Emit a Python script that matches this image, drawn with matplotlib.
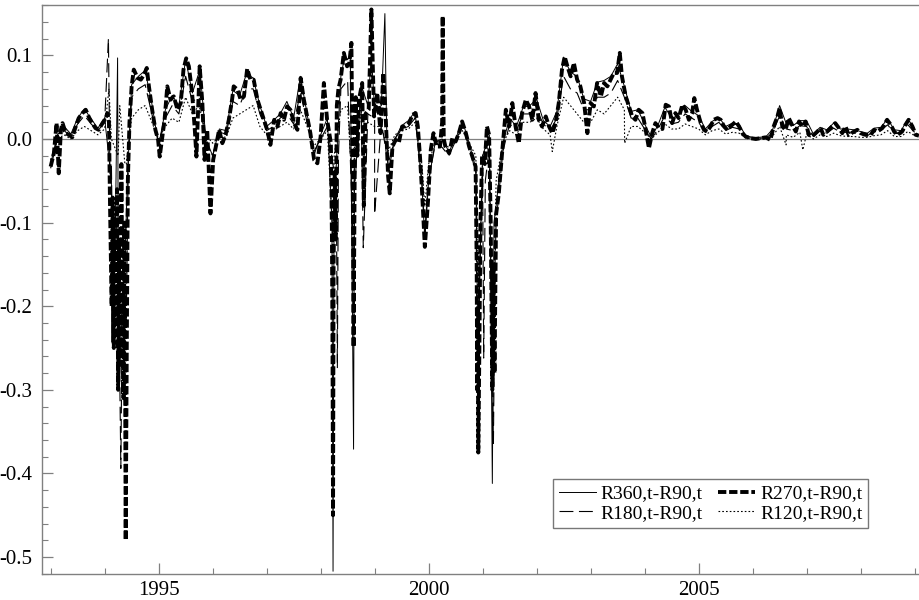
import numpy as np
import matplotlib
matplotlib.use('Agg')
import matplotlib.pyplot as plt
from matplotlib.ticker import MultipleLocator, FormatStrFormatter

plt.rcParams['font.family'] = ['Liberation Serif', 'DejaVu Serif']
plt.rcParams['axes.unicode_minus'] = False
plt.rcParams['lines.scale_dashes'] = False

# ── Data (decimal years, spread values) ──────────────────────────────────────

# R270,t-R90,t : the heavy dashed series, traced point by point
r270_t = [
    1993.00, 1993.06, 1993.11, 1993.15, 1993.19, 1993.22, 1993.28, 1993.34, 1993.40,
    1993.46, 1993.52, 1993.59, 1993.65, 1993.71, 1993.77, 1993.83, 1993.89, 1993.96,
    1994.02, 1994.05, 1994.08, 1994.10, 1994.13, 1994.15, 1994.17, 1994.19, 1994.21,
    1994.23, 1994.25, 1994.27, 1994.29, 1994.31, 1994.33, 1994.35, 1994.37, 1994.39,
    1994.41, 1994.43, 1994.46, 1994.50, 1994.54, 1994.61, 1994.67, 1994.73, 1994.78,
    1994.82, 1994.88, 1994.94, 1994.99,
    1995.02, 1995.07, 1995.11, 1995.16, 1995.22, 1995.28, 1995.35, 1995.41, 1995.46,
    1995.51, 1995.56, 1995.62, 1995.67, 1995.70, 1995.76, 1995.81, 1995.85, 1995.90, 1995.96,
    1996.01, 1996.06, 1996.12, 1996.18, 1996.24, 1996.30, 1996.36, 1996.39, 1996.46,
    1996.52, 1996.58, 1996.64, 1996.70, 1996.76, 1996.83, 1996.89, 1996.95,
    1997.01, 1997.07, 1997.14, 1997.20, 1997.26, 1997.32, 1997.38, 1997.44, 1997.51,
    1997.57, 1997.63, 1997.69, 1997.75, 1997.81, 1997.88, 1997.94,
    1998.00, 1998.06, 1998.12, 1998.19, 1998.21, 1998.22, 1998.23, 1998.24, 1998.26,
    1998.28, 1998.30, 1998.33, 1998.37, 1998.43, 1998.49, 1998.53, 1998.57, 1998.60,
    1998.61, 1998.63, 1998.65, 1998.68, 1998.71, 1998.77, 1998.80, 1998.83, 1998.89,
    1998.94, 1998.99,
    1999.05, 1999.11, 1999.16, 1999.20, 1999.25, 1999.28, 1999.33, 1999.39, 1999.45,
    1999.51, 1999.57, 1999.64, 1999.70, 1999.76, 1999.80, 1999.84, 1999.88, 1999.93, 1999.99,
    2000.04, 2000.09, 2000.15, 2000.21, 2000.25, 2000.26, 2000.28, 2000.31, 2000.38,
    2000.44, 2000.50, 2000.56, 2000.62, 2000.69, 2000.75, 2000.81, 2000.87, 2000.89,
    2000.90, 2000.91, 2000.92, 2000.94, 2000.96, 2000.99,
    2001.04, 2001.08, 2001.12, 2001.15, 2001.18, 2001.20, 2001.22, 2001.25, 2001.30,
    2001.36, 2001.43, 2001.49, 2001.55, 2001.61, 2001.67, 2001.73, 2001.80, 2001.86,
    2001.92, 2001.98,
    2002.04, 2002.10, 2002.17, 2002.23, 2002.29, 2002.35, 2002.41, 2002.47, 2002.52,
    2002.57, 2002.63, 2002.69, 2002.75, 2002.81, 2002.88, 2002.94,
    2003.00, 2003.06, 2003.12, 2003.19, 2003.25, 2003.31, 2003.37, 2003.43, 2003.49,
    2003.54, 2003.58, 2003.65, 2003.71, 2003.77, 2003.83, 2003.89, 2003.96,
    2004.02, 2004.08, 2004.14, 2004.20, 2004.27, 2004.33, 2004.39, 2004.45, 2004.51,
    2004.57, 2004.63, 2004.70, 2004.76, 2004.82, 2004.88, 2004.92, 2004.97,
    2005.04, 2005.10, 2005.16, 2005.22, 2005.28, 2005.35, 2005.41, 2005.47, 2005.53,
    2005.59, 2005.69, 2005.75, 2005.81, 2005.87, 2005.96,
    2006.06, 2006.15, 2006.24, 2006.33, 2006.39, 2006.46, 2006.50, 2006.55, 2006.61,
    2006.67, 2006.73, 2006.80, 2006.86, 2006.92, 2006.98,
    2007.04, 2007.10, 2007.20, 2007.26, 2007.31, 2007.38, 2007.44, 2007.53, 2007.60,
    2007.66, 2007.72, 2007.78, 2007.88, 2007.94,
    2008.00, 2008.09, 2008.19, 2008.25, 2008.31, 2008.40, 2008.49, 2008.56, 2008.62,
    2008.68, 2008.77, 2008.83, 2008.89, 2008.96, 2009.02, 2009.08,
]
r270_v = [
    -0.033, -0.017, 0.019, -0.041, 0.011, 0.019, 0.007, 0.005, 0.002,
    0.014, 0.025, 0.031, 0.035, 0.026, 0.019, 0.013, 0.011, 0.019,
    0.025, 0.031, 0.02, -0.08, -0.20, -0.07, -0.25, -0.10, -0.22,
    -0.06, -0.30, -0.12, -0.27, -0.03, -0.20, -0.31, -0.10, -0.48,
    -0.25, -0.05, 0.02, 0.063, 0.083, 0.073, 0.071, 0.077, 0.085,
    0.063, 0.035, 0.011, -0.001,
    -0.021, 0.003, 0.023, 0.063, 0.047, 0.051, 0.035, 0.043, 0.083,
    0.0965, 0.087, 0.055, 0.011, -0.021, 0.087, 0.043, -0.025, 0.011, -0.089,
    -0.025, -0.009, 0.011, -0.005, 0.005, 0.023, 0.047, 0.063, 0.059,
    0.047, 0.051, 0.084, 0.071, 0.071, 0.047, 0.035, 0.023,
    0.011, -0.007, 0.023, 0.015, 0.031, 0.023, 0.039, 0.035, 0.019,
    0.011, 0.073, 0.047, 0.027, 0.007, -0.025, -0.029,
    0.003, 0.067, 0.023, -0.005, -0.12, -0.25, -0.45, -0.15, -0.04,
    -0.12, 0.04, 0.06, 0.071, 0.103, 0.087, 0.09, 0.115, -0.10,
    -0.249, -0.05, 0.05, -0.02, 0.047, 0.067, -0.08, 0.03, 0.035,
    0.155, 0.027,
    0.055, 0.007, 0.079, 0.035, -0.045, -0.065, -0.009, -0.001, -0.004,
    0.015, 0.015, 0.019, 0.029, 0.031, 0.015, -0.021, -0.065, -0.129, -0.073,
    -0.013, 0.007, -0.009, -0.009, 0.02, 0.147, 0.0, -0.009, -0.017,
    0.001, -0.003, 0.007, 0.021, 0.007, -0.009, -0.021, -0.033, -0.15,
    -0.30, -0.20, -0.375, -0.25, -0.10, -0.02,
    -0.03, 0.015, 0.005, -0.10, -0.30, -0.15, -0.28, -0.09, -0.065,
    -0.017, 0.035, 0.015, 0.043, 0.015, -0.005, 0.031, 0.047, 0.039,
    0.023, 0.055,
    0.023, 0.015, 0.027, 0.015, 0.007, 0.019, 0.043, 0.083, 0.0985,
    0.087, 0.075, 0.091, 0.071, 0.063, 0.043, 0.007,
    0.043, 0.039, 0.067, 0.051, 0.067, 0.063, 0.071, 0.079, 0.079,
    0.103, 0.075, 0.051, 0.039, 0.027, 0.023, 0.035, 0.031,
    0.011, -0.011, 0.007, 0.019, 0.013, 0.012, 0.041, 0.039, 0.019,
    0.031, 0.025, 0.041, 0.035, 0.023, 0.031, 0.049, 0.035,
    0.019, 0.011, 0.009, 0.015, 0.023, 0.025, 0.023, 0.015, 0.011,
    0.015, 0.021, 0.015, 0.007, 0.003, 0.001,
    0.000, 0.001, 0.002, -0.001, 0.015, 0.027, 0.037, 0.015, 0.011,
    0.025, 0.017, 0.009, 0.021, 0.015, 0.021,
    0.005, 0.003, 0.009, 0.013, 0.005, 0.009, 0.013, 0.019, 0.013,
    0.007, 0.015, 0.005, 0.009, 0.011,
    0.007, 0.005, 0.005, 0.011, 0.009, 0.013, 0.023, 0.017, 0.009,
    0.005, 0.009, 0.017, 0.023, 0.015, 0.005, 0.004,
]

# the thin series: one reading every 1/8 year, plus their own sharp spikes
grid_t = np.arange(1993.0, 2009.001, 0.125)

r360_grid = [
    -0.030, 0.005, 0.015, 0.006, 0.025, 0.036, 0.024, 0.013,
    0.025, -0.050, -0.100, -0.150, 0.065, 0.075, 0.082, 0.042,
    -0.008, 0.035, 0.052, 0.040, 0.095, 0.055, 0.080, 0.000,
    -0.020, 0.012, 0.010, 0.058, 0.052, 0.078, 0.073, 0.040,
    0.015, 0.022, 0.030, 0.045, 0.025, 0.075, 0.030, -0.020,
    0.005, 0.025, -0.050, 0.075, 0.095, -0.050, 0.065, 0.040,
    0.035, 0.040, -0.040, 0.000, 0.016, 0.022, 0.033, -0.055,
    -0.050, -0.003, 0.000, -0.015, 0.000, 0.022, -0.005, -0.035,
    -0.020, 0.005, -0.080, -0.005, 0.025, 0.015, 0.038, 0.040,
    0.048, 0.022, 0.015, 0.033, 0.098, 0.080, 0.075, 0.048,
    0.045, 0.068, 0.070, 0.075, 0.090, 0.063, 0.033, 0.035,
    0.018, 0.002, 0.017, 0.038, 0.025, 0.028, 0.040, 0.033,
    0.028, 0.012, 0.021, 0.026, 0.015, 0.019, 0.017, 0.004,
    0.002, 0.002, 0.003, 0.012, 0.040, 0.018, 0.016, 0.022,
    0.022, 0.006, 0.014, 0.011, 0.019, 0.012, 0.012, 0.011,
    0.009, 0.007, 0.013, 0.014, 0.024, 0.011, 0.010, 0.024,
    0.012,
]
r360_spike_t = [1994.13, 1994.20, 1994.24, 1994.27, 1994.32, 1994.42, 1995.76,
                1998.21, 1998.23, 1998.25, 1998.45, 1998.55, 1998.61, 1998.64,
                1998.94, 1999.19, 1999.22, 1999.93, 2000.92, 2000.95, 2001.18, 2001.21]
r360_spike_v = [-0.243, -0.10, 0.097, -0.298, -0.20, -0.05, 0.087,
                -0.10, -0.517, -0.08, 0.10, 0.10, -0.371, -0.05,
                0.10, 0.15, 0.02, -0.12, -0.30, -0.15, -0.412, -0.10]

r180_grid = [
    -0.035, 0.000, 0.010, 0.003, 0.018, 0.028, 0.018, 0.010,
    0.020, -0.030, -0.120, -0.200, 0.050, 0.060, 0.065, 0.030,
    -0.005, 0.025, 0.040, 0.030, 0.075, 0.045, 0.050, -0.005,
    -0.020, 0.008, 0.006, 0.045, 0.040, 0.060, 0.060, 0.030,
    0.010, 0.015, 0.025, 0.030, 0.018, 0.055, 0.020, -0.015,
    0.000, 0.015, -0.040, 0.060, 0.070, -0.030, 0.050, 0.030,
    0.025, 0.020, -0.030, 0.000, 0.012, 0.015, 0.025, -0.050,
    -0.050, -0.005, -0.010, -0.020, -0.002, 0.015, -0.010, -0.040,
    -0.040, -0.010, -0.100, -0.015, 0.018, 0.010, 0.030, 0.030,
    0.035, 0.018, 0.010, 0.025, 0.075, 0.060, 0.055, 0.035,
    0.035, 0.050, 0.050, 0.055, 0.070, 0.050, 0.025, 0.025,
    0.012, 0.000, 0.012, 0.028, 0.018, 0.020, 0.030, 0.025,
    0.020, 0.008, 0.015, 0.020, 0.010, 0.014, 0.012, 0.002,
    0.001, 0.001, 0.001, 0.008, 0.028, 0.012, 0.010, 0.016,
    0.015, 0.003, 0.010, 0.007, 0.013, 0.008, 0.008, 0.007,
    0.006, 0.004, 0.009, 0.010, 0.017, 0.007, 0.006, 0.017,
    0.008,
]
r180_spike_t = [1994.07, 1994.10, 1994.16, 1994.22, 1994.30, 1994.34, 1994.40, 1994.44,
                1998.29, 1998.31, 1998.33, 1998.59, 1998.62, 1998.79, 1999.00,
                1999.93, 2000.90, 2000.95, 2001.02, 2001.05, 2001.16, 2001.20, 2001.23]
r180_spike_v = [0.12, -0.05, -0.20, -0.10, -0.394, -0.10, -0.22, -0.02,
                -0.05, -0.274, -0.02, -0.10, -0.23, -0.13, -0.09,
                -0.11, -0.30, -0.15, -0.262, -0.05, -0.20, -0.364, -0.15]

r120_grid = [
    -0.025, 0.000, 0.005, 0.000, 0.010, 0.015, 0.010, 0.005,
    0.012, 0.000, -0.020, -0.030, 0.025, 0.035, 0.040, 0.020,
    0.000, 0.015, 0.025, 0.020, 0.050, 0.030, 0.040, 0.005,
    -0.005, 0.003, 0.002, 0.025, 0.030, 0.035, 0.040, 0.015,
    0.005, 0.010, 0.015, 0.020, 0.012, 0.035, 0.015, -0.008,
    0.000, 0.010, -0.020, 0.035, 0.040, -0.010, 0.030, 0.020,
    0.015, 0.015, -0.015, 0.005, 0.010, 0.012, 0.020, -0.030,
    -0.030, -0.002, -0.005, -0.010, 0.000, 0.010, -0.005, -0.020,
    -0.020, 0.000, -0.050, -0.005, 0.010, 0.005, 0.020, 0.020,
    0.025, 0.012, 0.005, 0.015, 0.050, 0.040, 0.030, 0.020,
    0.020, 0.035, 0.030, 0.040, 0.050, 0.035, 0.015, 0.015,
    0.008, 0.000, 0.008, 0.018, 0.012, 0.012, 0.018, 0.015,
    0.012, 0.005, 0.010, 0.012, 0.006, 0.008, 0.007, 0.001,
    0.000, 0.000, 0.000, 0.004, 0.015, 0.005, 0.002, 0.008,
    0.006, 0.000, 0.005, 0.003, 0.007, 0.004, 0.003, 0.003,
    0.002, 0.002, 0.004, 0.005, 0.010, 0.003, 0.003, 0.009,
    0.004,
]
r120_spike_t = [1994.08, 1994.28, 1994.40, 1998.23, 1998.62, 1999.93,
                2000.92, 2001.19, 2002.29, 2003.63, 2006.62, 2006.93]
r120_spike_v = [0.06, 0.04, -0.03, -0.12, -0.10, -0.08,
                -0.22, -0.25, -0.015, -0.005, -0.007, -0.013]


def merge(grid_vals, spike_t, spike_v):
    t = np.concatenate([grid_t, spike_t])
    v = np.concatenate([grid_vals, spike_v])
    order = np.argsort(t, kind='stable')
    return t[order], v[order]


# ── Plot ──────────────────────────────────────────────────────────────────────

fig = plt.figure(figsize=(9.2, 6.0), dpi=100)
ax = fig.add_axes([42 / 920, 26 / 600, 878 / 920, 569 / 600])

ax.axhline(0, color='#808080', lw=0.9, zorder=1)

t360, v360 = merge(r360_grid, r360_spike_t, r360_spike_v)
t180, v180 = merge(r180_grid, r180_spike_t, r180_spike_v)
t120, v120 = merge(r120_grid, r120_spike_t, r120_spike_v)

l120, = ax.plot(t120, v120, color='black', lw=0.8, ls=(0, (1.2, 1.5)), zorder=2)
l180, = ax.plot(t180, v180, color='black', lw=0.8, ls=(0, (10, 4)), zorder=3)
l360, = ax.plot(t360, v360, color='black', lw=0.7, zorder=4)
l270, = ax.plot(r270_t, r270_v, color='black', lw=2.8, ls=(0, (6, 2)), zorder=5)

ax.set_xlim(1992.84, 2009.10)
ax.set_ylim(-0.5203, 0.1603)

ax.xaxis.set_major_locator(MultipleLocator(5))
ax.xaxis.set_minor_locator(MultipleLocator(1))
ax.yaxis.set_major_locator(MultipleLocator(0.1))
ax.yaxis.set_minor_locator(MultipleLocator(0.02))
ax.xaxis.set_major_formatter(FormatStrFormatter('%d'))
ax.yaxis.set_major_formatter(FormatStrFormatter('%.1f'))

ax.tick_params(which='both', direction='in', color='#808080', labelsize=15,
               top=False, right=False)
ax.tick_params(which='major', length=8, width=0.9)
ax.tick_params(which='minor', length=4.5, width=0.8)
ax.tick_params(axis='y', pad=7)
ax.tick_params(axis='x', pad=5)

for side in ['left', 'bottom', 'top']:
    ax.spines[side].set_color('#808080')
    ax.spines[side].set_linewidth(1.0)
ax.spines['right'].set_visible(False)

leg = ax.legend([l360, l180, l270, l120],
                ['R360,t-R90,t', 'R180,t-R90,t', 'R270,t-R90,t', 'R120,t-R90,t'],
                ncol=2, loc='lower left', bbox_to_anchor=(0.582, 0.081),
                borderaxespad=0, fontsize=14, frameon=True, fancybox=False,
                handlelength=1.9, handletextpad=0.25, columnspacing=0.8,
                labelspacing=0.1, borderpad=0.3)
leg.get_frame().set_edgecolor('#555555')
leg.get_frame().set_linewidth(1.0)

fig.savefig('out.png', dpi=100)
